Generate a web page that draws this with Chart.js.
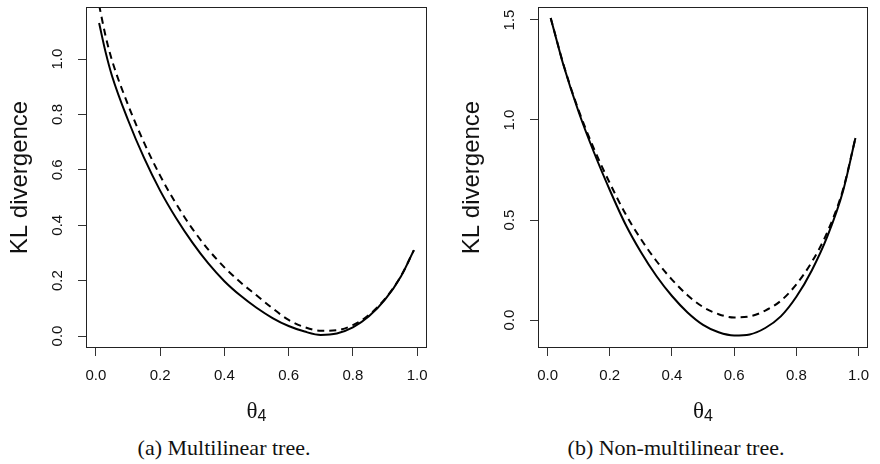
<!DOCTYPE html>
<html>
<head>
<meta charset="utf-8">
<script src="https://cdn.jsdelivr.net/npm/chart.js@4.4.0/dist/chart.umd.min.js"></script>
<style>
  html, body { margin: 0; padding: 0; background: #fff; overflow: hidden; }
  #wrap { position: relative; width: 880px; height: 464px; }
  canvas { position: absolute; top: 0; }
  #plotA { left: 0; }
  #plotB { left: 452px; }
  .caption { position: absolute; top: 437px; font-family: "Liberation Serif", serif; font-size: 22px; line-height: 22px; color: #111; transform: translateX(-50%); white-space: nowrap; }
</style>
</head>
<body>
<div id="wrap">
  <canvas id="plotA" width="440" height="430"></canvas>
  <canvas id="plotB" width="428" height="430"></canvas>
  <div class="caption" style="left:224px">(a) Multilinear tree.</div>
  <div class="caption" style="left:676px">(b) Non-multilinear tree.</div>
</div>
<script>
// theta_4 grid the curves were read at
var THETA = [0.01, 0.03, 0.05, 0.10, 0.15, 0.20, 0.25, 0.30, 0.35, 0.40, 0.45, 0.50, 0.55, 0.60, 0.65, 0.70, 0.75, 0.80, 0.85, 0.90, 0.95, 0.99]

// (a) multilinear tree
var KL_A_SOLID  = [1.13, 1.026, 0.940, 0.780, 0.643, 0.525, 0.425, 0.338, 0.262, 0.198, 0.146, 0.102, 0.065, 0.036, 0.016, 0.004, 0.009, 0.031, 0.071, 0.131, 0.216, 0.310]
var KL_A_DASHED = [1.195, 1.084, 0.996, 0.835, 0.698, 0.579, 0.477, 0.388, 0.312, 0.248, 0.194, 0.147, 0.100, 0.058, 0.032, 0.019, 0.021, 0.039, 0.076, 0.134, 0.217, 0.310]

// (b) non-multilinear tree
var KL_B_SOLID  = [1.51, 1.394, 1.280, 1.040, 0.835, 0.650, 0.480, 0.340, 0.220, 0.120, 0.038, -0.024, -0.061, -0.077, -0.072, -0.040, 0.018, 0.116, 0.249, 0.419, 0.644, 0.910]
var KL_B_DASHED = [1.51, 1.396, 1.283, 1.048, 0.853, 0.685, 0.532, 0.405, 0.295, 0.202, 0.124, 0.065, 0.029, 0.013, 0.018, 0.047, 0.096, 0.178, 0.291, 0.441, 0.652, 0.910]

var X_TICKS = [0, 0.2, 0.4, 0.6, 0.8, 1.0]
var Y_TICKS_A = [0, 0.2, 0.4, 0.6, 0.8, 1.0]
var Y_TICKS_B = [0, 0.5, 1.0, 1.5]

const FONT = "'Liberation Sans', Arial, sans-serif"
const INK = '#111'

// R style box, rotated y labels and the theta_4 label
const rStyle = {
  id: 'rStyle',
  afterDraw(chart) {
    const ctx = chart.ctx
    const a = chart.chartArea
    ctx.save()
    ctx.strokeStyle = '#222'
    ctx.lineWidth = 1
    ctx.strokeRect(Math.round(a.left) + 0.5, Math.round(a.top) + 0.5, Math.round(a.right - a.left) - 1, Math.round(a.bottom - a.top) - 1)

    const ys = chart.scales.y
    ctx.fillStyle = INK
    ctx.font = '15px ' + FONT
    ctx.textAlign = 'center'
    ctx.textBaseline = 'middle'
    ys.ticks.forEach(function(t) {
      const py = ys.getPixelForValue(t.value)
      ctx.save()
      ctx.translate(a.left - 28, py)
      ctx.rotate(-Math.PI / 2)
      ctx.fillText(t.value.toFixed(1), 0, 0)
      ctx.restore()
    })

    // theta with subscript 4
    const cx = (a.left + a.right) / 2
    ctx.textAlign = 'left'
    ctx.textBaseline = 'alphabetic'
    ctx.font = "23px 'Liberation Serif', serif"
    const w1 = ctx.measureText('θ').width
    ctx.font = '16px ' + FONT
    const w2 = ctx.measureText('4').width
    const x0 = cx - (w1 + w2) / 2
    ctx.font = "23px 'Liberation Serif', serif"
    ctx.fillText('θ', x0, 418)
    ctx.font = '16px ' + FONT
    ctx.fillText('4', x0 + w1, 421)
    ctx.restore()
  }
}

function makePlot(id, solid, dashed, yMin, yMax, yTicks, padRight) {
  const data = {
    datasets: [{
      data: THETA.map(function(t, i) { return {x: t, y: solid[i]} }),
      borderColor: '#000',
      borderWidth: 2,
      pointRadius: 0,
      cubicInterpolationMode: 'monotone'
    }, {
      data: THETA.map(function(t, i) { return {x: t, y: dashed[i]} }),
      borderColor: '#000',
      borderWidth: 2,
      borderDash: [7, 5],
      pointRadius: 0,
      cubicInterpolationMode: 'monotone'
    }]
  }

  return new Chart(document.getElementById(id), {
    type: 'line',
    data: data,
    plugins: [rStyle],
    options: {
      responsive: false,
      animation: false,
      layout: { padding: { top: 7, right: padRight, left: 0, bottom: 0 } },
      plugins: { legend: { display: false }, tooltip: { enabled: false } },
      scales: {
        x: {
          type: 'linear',
          min: -0.0308,
          max: 1.0308,
          afterBuildTicks: function(s) { s.ticks = X_TICKS.map(function(v) { return {value: v} }) },
          afterFit: function(s) { s.height = 82 },
          ticks: {
            padding: 11,
            color: INK,
            font: { family: FONT, size: 15 },
            callback: function(v) { return v.toFixed(1) }
          },
          grid: { drawOnChartArea: false, drawTicks: true, tickLength: 8, color: '#333' },
          border: { display: false }
        },
        y: {
          min: yMin,
          max: yMax,
          afterBuildTicks: function(s) { s.ticks = yTicks.map(function(v) { return {value: v} }) },
          afterFit: function(s) { s.width = 86 },
          ticks: { display: false },
          grid: { drawOnChartArea: false, drawTicks: true, tickLength: 8, color: '#333' },
          border: { display: false },
          title: {
            display: true,
            text: 'KL divergence',
            color: INK,
            font: { family: FONT, size: 24, weight: 'normal' },
            padding: { top: 6, bottom: 0 }
          }
        }
      }
    }
  })
}

makePlot('plotA', KL_A_SOLID, KL_A_DASHED, -0.0433, 1.188, Y_TICKS_A, 13)
makePlot('plotB', KL_B_SOLID, KL_B_DASHED, -0.14, 1.565, Y_TICKS_B, 1)
</script>
</body>
</html>
